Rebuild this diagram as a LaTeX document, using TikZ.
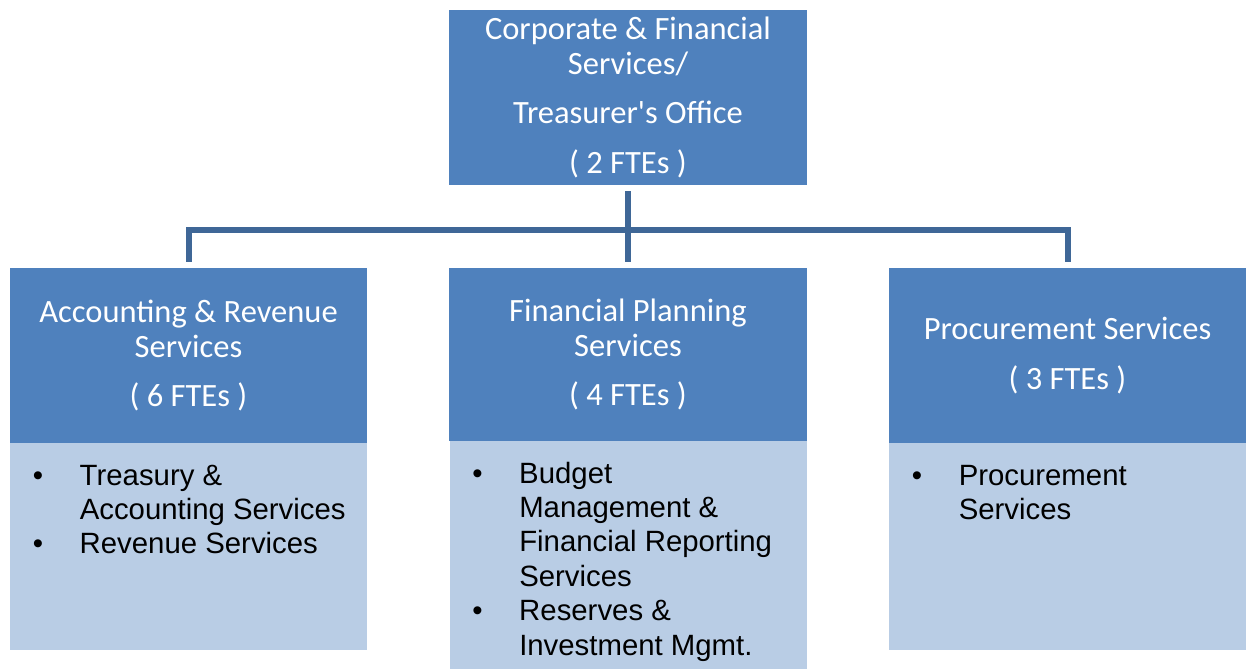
\documentclass[tikz,border=0pt]{standalone}
\usepackage{fontspec}
\newfontfamily\headfont{Carlito}
\newfontfamily\bodyfont{Liberation Sans}
\usetikzlibrary{positioning}
\definecolor{hdrblue}{HTML}{4F81BD}
\definecolor{bodyblue}{HTML}{B9CDE5}
\definecolor{linkblue}{HTML}{3F6797}
\newcommand{\bitem}[1]{\par\noindent\hspace*{13pt}\makebox[26.7pt][l]{\textbullet}\parbox[t]{165pt}{\raggedright\strut #1\strut}\par}
\newcommand{\bodytext}[2]{\begin{minipage}[c][#1][t]{7.14cm}\bodyfont\fontsize{16.7}{19.6}\selectfont\lineskip=0pt\vspace*{10pt}#2\end{minipage}}
\begin{document}
\begin{tikzpicture}[head/.style={fill=hdrblue, text=white, minimum width=7.14cm, minimum height=3.5cm, inner sep=0pt, align=center, font=\headfont\fontsize{18.5}{19.8}\selectfont},
    body/.style={fill=bodyblue, inner sep=0pt, outer sep=0pt},
    link/.style={draw=linkblue, line width=0.12cm}]
        \useasboundingbox (0,0) rectangle (25,-13.38);
        \node[head, minimum width=7.16cm] (cfs) at (12.56,-1.95) {Corporate \& Financial\\Services/\\[8.3pt]Treasurer's Office\\[8.3pt]( 2 FTEs )};
        \node[head] (ars) at (3.77,-7.11) {Accounting \& Revenue\\Services\\[8.3pt]( 6 FTEs )};
        \node[head, minimum width=7.16cm, minimum height=3.46cm] (fps) at (12.56,-7.09) {Financial Planning\\Services\\[8.3pt]( 4 FTEs )};
        \node[head] (pcs) at (21.35,-7.11) {Procurement Services\\[8.8pt]( 3 FTEs )};
        \node[body, below=0pt of ars] (arsb) {\bodytext{4.14cm}{\bitem{Treasury \&\\Accounting Services}\bitem{Revenue Services}}};
        \node[body, below=0pt of fps] (fpsb) {\bodytext{4.56cm}{\bitem{Budget\\Management \&\\Financial Reporting\\Services}\bitem{Reserves \&\\Investment Mgmt.}}};
        \node[body, below=0pt of pcs] (pcsb) {\bodytext{4.14cm}{\bitem{Procurement\\Services}}};
        \coordinate (bus) at (12.56,-4.6);
        \draw[link] ([yshift=-0.12cm]cfs.south) -- ([yshift=0.12cm]fps.north);
        \draw[link] ([yshift=0.12cm]ars.north) |- (bus) -| ([yshift=0.12cm]pcs.north);
    \end{tikzpicture}
\end{document}
